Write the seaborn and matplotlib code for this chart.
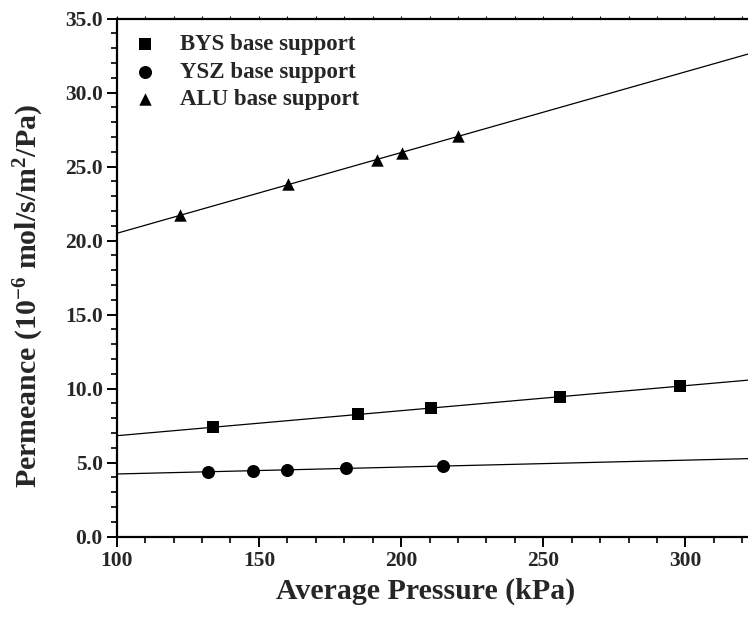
import matplotlib
matplotlib.use("Agg")
import matplotlib.pyplot as plt
from matplotlib.ticker import MultipleLocator, FormatStrFormatter
import seaborn as sns
import pandas as pd

# Average pressure (kPa) and permeance (10^-6 mol/s/m2/Pa) for each support
bys_pressure = [133.7, 185.0, 210.5, 256.0, 298.0]
bys_permeance = [7.40, 8.27, 8.67, 9.42, 10.20]
ysz_pressure = [132.2, 147.8, 160.0, 180.5, 214.8]
ysz_permeance = [4.39, 4.46, 4.50, 4.62, 4.77]
alu_pressure = [122.2, 160.3, 191.4, 200.2, 219.9]
alu_permeance = [21.70, 23.80, 25.45, 25.95, 27.05]

series_labels = ["BYS base support", "YSZ base support", "ALU base support"]
series_markers = ["s", "o", "^"]
series_sizes = [75, 88, 80]

sns.set_theme(style="ticks")
plt.rcParams["font.family"] = ["Liberation Serif", "DejaVu Serif"]
plt.rcParams["font.weight"] = "bold"
plt.rcParams["mathtext.fontset"] = "custom"
plt.rcParams["mathtext.rm"] = "Liberation Serif:bold"
plt.rcParams["mathtext.bf"] = "Liberation Serif:bold"
plt.rcParams["mathtext.it"] = "Liberation Serif:bold"
plt.rcParams["mathtext.default"] = "bf"

frames = [
    pd.DataFrame({"pressure": p, "permeance": k, "support": lab})
    for p, k, lab in zip(
        [bys_pressure, ysz_pressure, alu_pressure],
        [bys_permeance, ysz_permeance, alu_permeance],
        series_labels,
    )
]

fig = plt.figure(figsize=(7.48, 6.19), dpi=100)
ax = fig.add_axes([0.156, 0.133, 0.844, 0.837])
ax.set_xlim(100, 322)
ax.set_ylim(0, 35)

for df, mk, sz in zip(frames, series_markers, series_sizes):
    sns.regplot(data=df, x="pressure", y="permeance", scatter=False, ci=None,
                truncate=False, ax=ax, color="black",
                line_kws={"linewidth": 0.9})
    sns.scatterplot(data=df, x="pressure", y="permeance", marker=mk, s=sz,
                    color="black", edgecolor="black", linewidth=0, ax=ax,
                    label=df["support"].iloc[0], zorder=3)

ax.set_xlim(100, 322)
ax.set_ylim(0, 35)

ax.xaxis.set_major_locator(MultipleLocator(50))
ax.xaxis.set_minor_locator(MultipleLocator(10))
ax.yaxis.set_major_locator(MultipleLocator(5))
ax.yaxis.set_minor_locator(MultipleLocator(1))
ax.yaxis.set_major_formatter(FormatStrFormatter("%.1f"))

for side in ["left", "bottom", "top"]:
    ax.spines[side].set_linewidth(1.6)
    ax.spines[side].set_color("black")
ax.spines["right"].set_visible(False)

ax.tick_params(axis="both", which="major", direction="out", length=7,
               width=1.4, labelsize=15.5, color="black", pad=3)
ax.tick_params(axis="both", which="minor", direction="out", length=4,
               width=1.2, color="black")
# tiny marks along the top frame
ax.tick_params(axis="x", which="both", top=True, labeltop=False)
for tl in ax.xaxis.get_majorticklines()[1::2] + ax.xaxis.get_minorticklines()[1::2]:
    tl.set_markersize(2)
    tl.set_markeredgewidth(0.8)
for lab in ax.get_xticklabels() + ax.get_yticklabels():
    lab.set_fontweight("bold")

ax.set_xlabel("Average Pressure (kPa)", fontsize=21.5, fontweight="bold")
ax.xaxis.set_label_coords(0.49, -0.08)
ax.set_ylabel(r"Permeance (10$^{-6}$ mol/s/m$^{2}$/Pa)", fontsize=21.5,
              fontweight="bold")
ax.yaxis.set_label_coords(-0.112, 0.465)

leg = ax.legend(loc="upper left", frameon=False, fontsize=16.5,
                handlelength=1.0, handletextpad=1.0, labelspacing=0.3,
                borderaxespad=0.0, borderpad=0.0,
                bbox_to_anchor=(0.027, 0.971))
for txt in leg.get_texts():
    txt.set_fontweight("bold")

fig.savefig("out.png", dpi=100)
